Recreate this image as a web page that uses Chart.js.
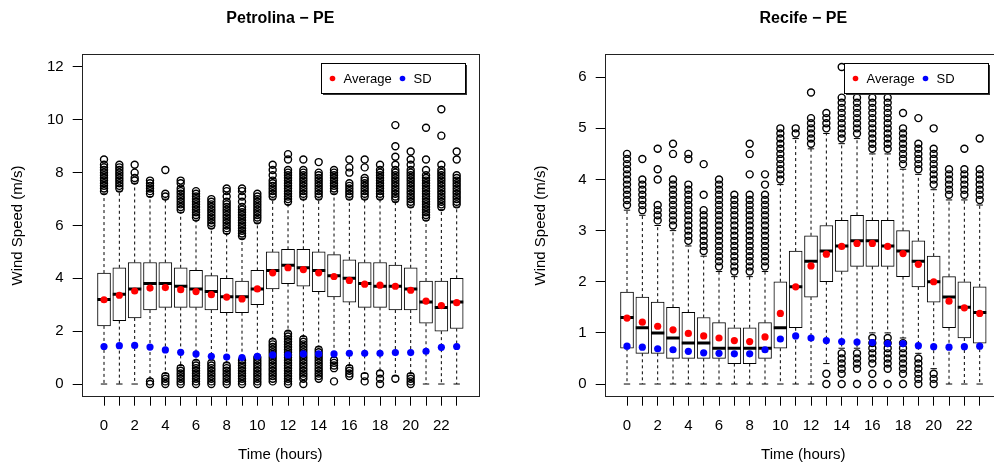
<!DOCTYPE html>
<html>
<head>
<meta charset="utf-8">
<script src="https://cdn.jsdelivr.net/npm/chart.js@4.4.1/dist/chart.umd.min.js"></script>
<style>
  html, body { margin: 0; padding: 0; background: #fff; overflow: hidden; width: 994px; height: 469px; }
  .panel { position: absolute; top: 0; width: 497px; height: 469px; }
</style>
</head>
<body>
<div class="panel" style="left:0"><canvas id="petrolina" width="497" height="469"></canvas></div>
<div class="panel" style="left:523px"><canvas id="recife" width="497" height="469"></canvas></div>
<script>
const hours = [0,1,2,3,4,5,6,7,8,9,10,11,12,13,14,15,16,17,18,19,20,21,22,23];

// Petrolina - PE
const q1L   = [2.2,2.4,2.5,2.8,2.9,2.9,2.9,2.8,2.7,2.7,3.0,3.6,3.8,3.7,3.5,3.3,3.1,2.9,2.9,2.8,2.8,2.3,2.0,2.1];
const medL  = [3.2,3.4,3.6,3.8,3.8,3.7,3.6,3.5,3.3,3.3,3.6,4.3,4.5,4.4,4.3,4.1,4.0,3.8,3.7,3.7,3.6,3.1,2.9,3.1];
const q3L   = [4.2,4.4,4.6,4.6,4.6,4.4,4.3,4.1,4.0,3.9,4.3,5.0,5.1,5.1,5.0,4.9,4.7,4.6,4.6,4.5,4.4,3.9,3.9,4.0];
const loL   = [0,0,0,0.2,0.4,0.7,0.9,0.9,0.8,1.0,1.1,1.7,2.0,1.8,1.4,1.0,0.7,0.4,0.5,0.3,0.4,0,0,0];
const hiL   = [7.2,7.3,7.6,7.1,7.0,6.5,6.2,5.9,5.7,5.5,6.1,7.0,6.8,7.0,7.0,7.2,7.0,7.0,7.0,6.9,6.7,6.2,6.6,6.7];
const meanL = [3.19,3.36,3.52,3.63,3.65,3.57,3.5,3.38,3.29,3.22,3.6,4.21,4.4,4.33,4.21,4.07,3.92,3.78,3.74,3.7,3.55,3.14,2.97,3.08];
const sdL   = [1.42,1.45,1.46,1.4,1.29,1.2,1.14,1.05,1.02,1.0,1.05,1.1,1.1,1.14,1.14,1.14,1.16,1.16,1.16,1.19,1.19,1.24,1.39,1.42];
const outUpL = [
  [7.3,7.4,7.5,7.6,7.7,7.8,7.9,8.0,8.1,8.2,8.3,8.5],
  [7.4,7.5,7.6,7.7,7.8,7.9,8.0,8.1,8.2,8.3],
  [7.7,7.8,8.0,8.3],
  [7.2,7.3,7.4,7.5,7.6,7.7],
  [7.1,7.2,8.1],
  [6.6,6.7,6.8,6.9,7.0,7.1,7.2,7.3,7.4,7.6,7.7],
  [6.3,6.4,6.5,6.6,6.7,6.8,6.9,7.0,7.1,7.2,7.3],
  [6.0,6.1,6.2,6.3,6.4,6.5,6.6,6.7,6.8,6.9,7.0],
  [5.8,5.9,6.0,6.1,6.2,6.3,6.4,6.5,6.6,6.7,6.8,6.9,7.1,7.3,7.4],
  [5.6,5.7,5.8,5.9,6.0,6.1,6.2,6.3,6.4,6.5,6.6,6.7,6.9,7.1,7.3,7.4],
  [6.2,6.3,6.4,6.5,6.6,6.7,6.8,6.9,7.0,7.1,7.2],
  [7.1,7.2,7.3,7.4,7.5,7.6,7.7,7.9,8.1,8.3],
  [6.9,7.0,7.1,7.2,7.3,7.4,7.5,7.6,7.7,7.8,7.9,8.0,8.1,8.5,8.7],
  [7.1,7.2,7.3,7.4,7.5,7.6,7.7,7.8,7.9,8.0,8.1,8.5],
  [7.1,7.2,7.3,7.4,7.5,7.6,7.7,7.8,7.9,8.0,8.4],
  [7.3,7.4,7.5,7.6,7.7,7.8,7.9,8.0,8.1],
  [7.1,7.2,7.3,7.4,7.5,7.6,8.0,8.2,8.5],
  [7.1,7.2,7.3,7.4,7.5,7.6,7.7,7.8,8.2,8.5],
  [7.1,7.2,7.3,7.4,7.5,7.6,7.7,7.8,7.9,8.0,8.1,8.3],
  [7.0,7.1,7.2,7.3,7.4,7.5,7.6,7.7,7.8,7.9,8.0,8.1,8.3,8.6,9.0,9.8],
  [6.8,6.9,7.0,7.1,7.2,7.3,7.4,7.5,7.6,7.7,7.8,7.9,8.0,8.1,8.3,8.5,8.8],
  [6.3,6.4,6.5,6.6,6.7,6.8,6.9,7.0,7.1,7.2,7.3,7.4,7.5,7.6,7.7,7.8,7.9,8.1,8.5,9.7],
  [6.7,6.8,6.9,7.0,7.1,7.2,7.3,7.4,7.5,7.6,7.7,7.8,7.9,8.0,8.1,8.3,9.4,10.4],
  [6.8,6.9,7.0,7.1,7.2,7.3,7.4,7.5,7.6,7.7,7.8,7.9,8.5,8.8]
];
const outLowL = [
  [], [], [],
  [0,0.1],
  [0,0.1,0.2,0.3],
  [0,0.1,0.2,0.3,0.4,0.5,0.6],
  [0,0.1,0.2,0.3,0.4,0.5,0.6,0.7,0.8],
  [0,0.1,0.2,0.3,0.4,0.5,0.6,0.7,0.8],
  [0,0.1,0.2,0.3,0.4,0.5,0.6,0.7],
  [0,0.1,0.2,0.3,0.4,0.5,0.6,0.7,0.8,0.9],
  [0,0.1,0.2,0.3,0.4,0.5,0.6,0.7,0.8,0.9,1.0],
  [0.1,0.2,0.3,0.4,0.5,0.6,0.7,0.8,0.9,1.0,1.1,1.2,1.3,1.4,1.5,1.6],
  [0,0.1,0.2,0.3,0.4,0.5,0.6,0.7,0.8,0.9,1.0,1.1,1.2,1.3,1.4,1.5,1.6,1.7,1.8,1.9],
  [0,0.2,0.3,0.4,0.5,0.6,0.7,0.8,0.9,1.0,1.1,1.2,1.3,1.4,1.5,1.6,1.7],
  [0.2,0.3,0.4,0.5,0.6,0.7,0.8,0.9,1.0,1.1,1.2,1.3],
  [0.1,0.6,0.7,0.8,0.9],
  [0.3,0.4,0.5,0.6],
  [0.1,0.3],
  [0,0.2,0.4],
  [0.2],
  [0,0.1,0.2,0.3],
  [], [], []
];

// Recife - PE
const q1R   = [0.7,0.6,0.6,0.5,0.5,0.5,0.5,0.4,0.4,0.5,0.7,1.1,1.7,2.0,2.2,2.3,2.3,2.3,2.1,1.9,1.6,1.1,0.9,0.8];
const medR  = [1.3,1.1,1.0,0.9,0.8,0.8,0.7,0.7,0.7,0.7,1.1,1.9,2.4,2.6,2.7,2.8,2.8,2.7,2.6,2.4,2.0,1.7,1.5,1.4];
const q3R   = [1.8,1.7,1.6,1.5,1.4,1.3,1.2,1.1,1.1,1.2,2.0,2.6,2.9,3.1,3.2,3.3,3.2,3.2,3.0,2.8,2.5,2.1,2.0,1.9];
const loR   = [0,0,0,0,0,0,0,0,0,0,0,0,0,0.4,0.7,0.7,1.0,1.0,0.9,0.6,0.3,0,0,0];
const hiR   = [3.4,3.3,3.1,3.0,2.7,2.5,2.2,2.1,2.1,2.2,3.9,4.8,4.6,4.9,4.7,4.8,4.5,4.5,4.2,4.1,3.8,3.6,3.6,3.5];
const meanR = [1.29,1.21,1.13,1.06,0.99,0.94,0.9,0.85,0.83,0.92,1.38,1.9,2.31,2.54,2.69,2.75,2.75,2.69,2.55,2.34,2.0,1.62,1.49,1.38];
const sdR   = [0.74,0.72,0.69,0.67,0.64,0.61,0.6,0.59,0.59,0.67,0.88,0.94,0.9,0.85,0.83,0.82,0.81,0.79,0.79,0.75,0.73,0.72,0.73,0.74];
const outUpR = [
  [3.5,3.6,3.7,3.8,3.9,4.0,4.1,4.2,4.3,4.4,4.5],
  [3.4,3.5,3.6,3.7,3.8,3.9,4.0,4.4],
  [3.2,3.3,3.4,3.5,4.0,4.2,4.6],
  [3.1,3.2,3.3,3.4,3.5,3.6,3.7,3.8,3.9,4.0,4.5,4.7],
  [2.8,2.9,3.0,3.1,3.2,3.3,3.4,3.5,3.6,3.7,3.8,3.9,4.4,4.5],
  [2.6,2.7,2.8,2.9,3.0,3.1,3.2,3.3,3.4,3.7,4.3],
  [2.3,2.4,2.5,2.6,2.7,2.8,2.9,3.0,3.1,3.2,3.3,3.4,3.5,3.6,3.7,3.8,3.9,4.0],
  [2.2,2.3,2.4,2.5,2.6,2.7,2.8,2.9,3.0,3.1,3.2,3.3,3.4,3.5,3.6,3.7],
  [2.2,2.3,2.4,2.5,2.6,2.7,2.8,2.9,3.0,3.1,3.2,3.3,3.4,3.5,3.6,3.7,4.1,4.5,4.7],
  [2.3,2.4,2.5,2.6,2.7,2.8,2.9,3.0,3.1,3.2,3.3,3.4,3.5,3.6,3.7,3.9,4.1],
  [4.0,4.1,4.2,4.3,4.4,4.5,4.6,4.7,4.8,4.9,5.0],
  [4.9,5.0],
  [4.7,4.8,4.9,5.0,5.1,5.2,5.7],
  [5.0,5.1,5.2,5.3],
  [4.8,4.9,5.0,5.1,5.2,5.3,5.4,5.5,5.6,6.2],
  [4.9,5.0,5.1,5.2,5.3,5.4,5.5,5.6],
  [4.6,4.7,4.8,4.9,5.0,5.1,5.2,5.3,5.4,5.5,5.6],
  [4.6,4.7,4.8,4.9,5.0,5.1,5.2,5.3,5.4,5.5,5.6],
  [4.3,4.4,4.5,4.6,4.7,4.8,4.9,5.0,5.3],
  [4.2,4.3,4.4,4.5,4.6,4.7,5.2],
  [3.9,4.0,4.1,4.2,4.3,4.4,4.5,4.6,5.0],
  [3.7,3.8,3.9,4.0,4.1,4.2],
  [3.7,3.8,3.9,4.0,4.1,4.2,4.6],
  [3.6,3.7,3.8,3.9,4.0,4.1,4.2,4.8]
];
const outLowR = [
  [], [], [], [], [], [], [], [], [], [], [], [], [],
  [0,0.2],
  [0,0.2,0.3,0.4,0.5,0.6],
  [0,0.3,0.4,0.5,0.6],
  [0,0.2,0.4,0.5,0.6,0.7,0.8,0.9],
  [0,0.3,0.4,0.5,0.6,0.7,0.8,0.9],
  [0,0.2,0.3,0.4,0.5,0.6,0.7,0.8],
  [0,0.1,0.2,0.3,0.4,0.5],
  [0,0.1,0.2],
  [], [], []
];

const ticksL = [0,2,4,6,8,10,12];
const ticksR = [0,1,2,3,4,5,6];

const FONT = "'Liberation Sans', Arial, Helvetica, sans-serif";
Chart.defaults.font.family = FONT;
Chart.defaults.color = '#000';

// title + frame + legend drawn over the plot area
const decor = {
  id: 'decor',
  afterDatasetsDraw(chart, args, opts) {
    const ctx = chart.ctx, ca = chart.chartArea;
    ctx.save();
    ctx.strokeStyle = '#222';
    ctx.lineWidth = 1;
    ctx.strokeRect(Math.round(ca.left) + 0.5, Math.round(ca.top) + 0.5,
                   Math.round(ca.right - ca.left), Math.round(ca.bottom - ca.top));

    // legend
    const bx = Math.round(ca.right - 158) + 0.5, by = Math.round(ca.top + 9) + 0.5;
    const bw = 144, bh = 30;
    ctx.fillStyle = '#333';
    ctx.fillRect(bx + 1.5, by + 1.5, bw, bh);
    ctx.fillStyle = '#fff';
    ctx.fillRect(bx, by, bw, bh);
    ctx.strokeStyle = '#000';
    ctx.strokeRect(bx, by, bw, bh);
    const cy = by + bh / 2;
    ctx.fillStyle = '#ff0000';
    ctx.beginPath(); ctx.arc(bx + 11, cy, 2.8, 0, Math.PI * 2); ctx.fill();
    ctx.fillStyle = '#0000ff';
    ctx.beginPath(); ctx.arc(bx + 81, cy, 2.8, 0, Math.PI * 2); ctx.fill();
    ctx.fillStyle = '#000';
    ctx.font = '13px ' + FONT;
    ctx.textBaseline = 'middle';
    ctx.textAlign = 'left';
    ctx.fillText('Average', bx + 22, cy + 1);
    ctx.fillText('SD', bx + 92, cy + 1);

    // title
    ctx.font = 'bold 16px ' + FONT;
    ctx.textAlign = 'center';
    ctx.fillText(opts.text, (ca.left + ca.right) / 2, 18.5);
    ctx.restore();
  }
};

function boxChart(id, title, s, yMin, yMax, yTicks) {
  const pts = arr => hours.map((h, i) => ({ x: h, y: arr[i] }));
  const whiskers = [];
  hours.forEach((h, i) => {
    whiskers.push({ x: h, y: s.q3[i] }, { x: h, y: s.hi[i] }, { x: h, y: null });
    whiskers.push({ x: h, y: s.q1[i] }, { x: h, y: s.lo[i] }, { x: h, y: null });
  });
  const caps = [];
  hours.forEach((h, i) => { caps.push({ x: h, y: s.lo[i] }, { x: h, y: s.hi[i] }); });
  const outliers = [];
  hours.forEach((h, i) => {
    s.up[i].concat(s.low[i]).forEach(v => outliers.push({ x: h, y: v }));
  });

  new Chart(document.getElementById(id), {
    type: 'bar',
    data: {
      datasets: [
        { type: 'scatter', label: 'Average', data: pts(s.mean), order: 0,
          pointRadius: 3.6, pointBackgroundColor: '#ff0000', pointBorderWidth: 0 },
        { type: 'scatter', label: 'SD', data: pts(s.sd), order: 0,
          pointRadius: 3.6, pointBackgroundColor: '#0000ff', pointBorderWidth: 0 },
        { type: 'scatter', label: 'median', data: pts(s.med), order: 1,
          pointStyle: 'line', pointRadius: 6.6, pointBorderWidth: 3, pointBorderColor: '#000' },
        { type: 'bar', label: 'box', order: 2,
          data: hours.map((h, i) => ({ x: h, y: [s.q1[i], s.q3[i]] })),
          backgroundColor: '#fff', borderColor: '#000', borderWidth: 1,
          borderSkipped: false, barThickness: 13 },
        { type: 'scatter', label: 'staple', data: caps, order: 3,
          pointStyle: 'line', pointRadius: 3.2, pointBorderWidth: 1, pointBorderColor: '#000' },
        { type: 'line', label: 'whisker', data: whiskers, order: 4,
          borderColor: '#000', borderWidth: 1, borderDash: [3, 3],
          pointRadius: 0, spanGaps: false, fill: false, tension: 0 },
        { type: 'scatter', label: 'outliers', data: outliers, order: 5,
          pointRadius: 3.5, pointBorderWidth: 1.4, pointBorderColor: '#000',
          pointBackgroundColor: 'rgba(0,0,0,0)' }
      ]
    },
    options: {
      responsive: false,
      animation: false,
      events: [],
      devicePixelRatio: 1,
      layout: { padding: { top: 54.3, right: 18, bottom: 0, left: 0 } },
      plugins: { legend: { display: false }, tooltip: { enabled: false }, decor: { text: title } },
      scales: {
        x: {
          type: 'linear', min: -1.455, max: 24.455, offset: false,
          afterBuildTicks: a => { a.ticks = hours.map(h => ({ value: h })); },
          afterFit: a => { a.height = 72.3; },
          ticks: { autoSkip: false, maxRotation: 0, padding: 11, font: { size: 15 },
                   callback: v => (v % 2 === 0 ? String(v) : '') },
          grid: { drawOnChartArea: false, drawTicks: true, tickLength: 9, color: '#000', offset: false },
          border: { display: false },
          title: { display: true, text: 'Time (hours)', font: { size: 15 }, padding: { top: 0, bottom: 5 } }
        },
        y: {
          type: 'linear', min: yMin, max: yMax,
          afterBuildTicks: a => { a.ticks = yTicks.map(v => ({ value: v })); },
          afterFit: a => { a.width = 81.7; },
          ticks: { padding: 9, font: { size: 15 } },
          grid: { drawOnChartArea: false, drawTicks: true, tickLength: 9, color: '#000' },
          border: { display: false },
          title: { display: true, text: 'Wind Speed (m/s)', font: { size: 15 }, padding: { top: 9, bottom: 0 } }
        }
      }
    },
    plugins: [decor]
  });
}

boxChart('petrolina', 'Petrolina \u2212 PE',
  { q1: q1L, med: medL, q3: q3L, lo: loL, hi: hiL, mean: meanL, sd: sdL, up: outUpL, low: outLowL },
  -0.48, 12.48, ticksL);
boxChart('recife', 'Recife \u2212 PE',
  { q1: q1R, med: medR, q3: q3R, lo: loR, hi: hiR, mean: meanR, sd: sdR, up: outUpR, low: outLowR },
  -0.248, 6.448, ticksR);
</script>
</body>
</html>
